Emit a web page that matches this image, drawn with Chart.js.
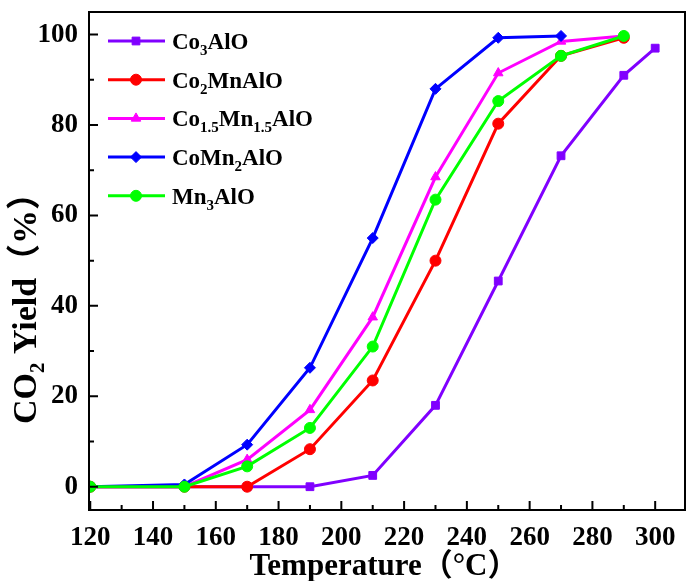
<!DOCTYPE html>
<html>
<head>
<meta charset="utf-8">
<script src="https://cdn.jsdelivr.net/npm/chart.js@4"></script>
<style>
  body { margin: 0; background: #fff; }
</style>
</head>
<body>
<canvas id="yieldChart" width="686" height="581"></canvas>
<script>
// temperatures (°C)
const temps = [120, 150, 170, 190, 210, 230, 250, 270, 290];
const tempsCo3 = [120, 150, 170, 190, 210, 230, 250, 270, 290, 300];

// CO2 yield (%)
const co3AlO = [0, 0, 0, 0, 2.5, 18, 45.5, 73.2, 91, 97];
const co2MnAlO = [0, 0, 0, 8.3, 23.5, 50, 80.3, 95.3, 99.3];
const co15Mn15AlO = [0, 0, 6, 17, 37.5, 68.5, 91.5, 98.5, 99.7];
const coMn2AlO = [0, 0.5, 9.3, 26.3, 55, 88, 99.3, 99.7];
const mn3AlO = [0, 0, 4.5, 13, 31, 63.5, 85.3, 95.3, 99.7];

const xTicks = [120, 140, 160, 180, 200, 220, 240, 260, 280, 300];
const yTicks = [0, 20, 40, 60, 80, 100];

// legend text with subscripts: [text, isSubscript]
const legendParts = [
  [['Co', 0], ['3', 1], ['AlO', 0]],
  [['Co', 0], ['2', 1], ['MnAlO', 0]],
  [['Co', 0], ['1.5', 1], ['Mn', 0], ['1.5', 1], ['AlO', 0]],
  [['CoMn', 0], ['2', 1], ['AlO', 0]],
  [['Mn', 0], ['3', 1], ['AlO', 0]]
];

const serif = '"Liberation Serif", "Times New Roman", "Noto Sans CJK SC", serif';

function pts(xs, ys) {
  return ys.map((v, i) => ({ x: xs[i], y: v }));
}

function series(label, xs, ys, color, style, order) {
  return {
    label: label,
    data: pts(xs, ys),
    borderColor: color,
    backgroundColor: color,
    borderWidth: 3,
    pointStyle: style,
    pointRadius: 5.5,
    pointBorderWidth: 1,
    pointHoverRadius: 5.5,
    order: order
  };
}

// draw rich text (with subscripts), returns width
function richText(ctx, parts, x, y, size, subSize, subDrop, measureOnly) {
  let cx = x;
  parts.forEach(p => {
    ctx.font = 'bold ' + (p[1] ? subSize : size) + 'px ' + serif;
    if (!measureOnly) ctx.fillText(p[0], cx, p[1] ? y + subDrop : y);
    cx += ctx.measureText(p[0]).width;
  });
  return cx - x;
}

const framePlugin = {
  id: 'frame',
  afterDraw(chart) {
    const ctx = chart.ctx;
    const a = chart.chartArea;
    const xs = chart.scales.x;
    const ys = chart.scales.y;
    ctx.save();
    ctx.strokeStyle = '#000';
    ctx.lineWidth = 2;
    ctx.strokeRect(a.left, a.top, a.right - a.left, a.bottom - a.top);

    // inward ticks
    ctx.beginPath();
    xTicks.forEach(t => {
      const px = xs.getPixelForValue(t);
      ctx.moveTo(px, a.bottom); ctx.lineTo(px, a.bottom - 9);
      const m = t + 10;
      if (m < xs.max) {
        const pm = xs.getPixelForValue(m);
        ctx.moveTo(pm, a.bottom); ctx.lineTo(pm, a.bottom - 5);
      }
    });
    yTicks.forEach(t => {
      const py = ys.getPixelForValue(t);
      ctx.moveTo(a.left, py); ctx.lineTo(a.left + 9, py);
      const m = t + 10;
      if (m < ys.max) {
        const pm = ys.getPixelForValue(m);
        ctx.moveTo(a.left, pm); ctx.lineTo(a.left + 5, pm);
      }
    });
    ctx.stroke();

    // legend
    chart.data.datasets.forEach((ds, i) => {
      const y = 41 + i * 38.7;
      ctx.strokeStyle = ds.borderColor;
      ctx.fillStyle = ds.borderColor;
      ctx.lineWidth = 3;
      ctx.beginPath();
      ctx.moveTo(108, y); ctx.lineTo(165, y);
      ctx.stroke();
      ctx.lineWidth = 1;
      Chart.helpers.drawPoint(ctx, { pointStyle: ds.pointStyle, radius: 5.5, rotation: 0, borderWidth: 1 }, 136, y);
      ctx.fillStyle = '#000';
      ctx.textBaseline = 'alphabetic';
      richText(ctx, legendParts[i], 172, y + 8, 23, 15, 6, false);
    });

    // x title
    ctx.fillStyle = '#000';
    ctx.textBaseline = 'alphabetic';
    ctx.font = 'bold 31px ' + serif;
    ctx.textAlign = 'center';
    ctx.fillText('Temperature（°C）', 384, 575);

    // y title
    ctx.textAlign = 'left';
    const yParts = [['CO', 0], ['2', 1], [' Yield（%）', 0]];
    const w = richText(ctx, yParts, 0, 0, 34, 21, 8, true);
    ctx.translate(25, 300);
    ctx.rotate(-Math.PI / 2);
    richText(ctx, yParts, -w / 2, 11, 34, 21, 8, false);
    ctx.restore();
  }
};

new Chart(document.getElementById('yieldChart').getContext('2d'), {
  type: 'line',
  data: {
    datasets: [
      series('Co3AlO', tempsCo3, co3AlO, '#8000ff', 'rect', 5),
      series('Co2MnAlO', temps, co2MnAlO, '#ff0000', 'circle', 4),
      series('Co1.5Mn1.5AlO', temps, co15Mn15AlO, '#ff00ff', 'triangle', 3),
      series('CoMn2AlO', temps, coMn2AlO, '#0000ff', 'rectRot', 2),
      series('Mn3AlO', temps, mn3AlO, '#00ff00', 'circle', 1)
    ]
  },
  options: {
    responsive: false,
    animation: false,
    devicePixelRatio: 1,
    layout: { autoPadding: false, padding: { top: 12, right: 1, left: 0, bottom: 0 } },
    plugins: {
      legend: { display: false },
      tooltip: { enabled: false }
    },
    scales: {
      x: {
        type: 'linear',
        min: 119.6,
        max: 309.5,
        afterBuildTicks: s => { s.ticks = xTicks.map(v => ({ value: v })); },
        afterFit: s => { s.height = 71; s.paddingLeft = 0; s.paddingRight = 0; },
        grid: { display: false, drawTicks: false },
        border: { display: false },
        ticks: {
          padding: 12,
          color: '#000',
          maxRotation: 0,
          font: { family: serif, size: 27, weight: 'bold' }
        }
      },
      y: {
        min: -5.15,
        max: 105,
        afterBuildTicks: s => { s.ticks = yTicks.map(v => ({ value: v })); },
        afterFit: s => { s.width = 89; s.paddingTop = 0; s.paddingBottom = 0; },
        grid: { display: false, drawTicks: false },
        border: { display: false },
        ticks: {
          padding: 11,
          color: '#000',
          font: { family: serif, size: 27, weight: 'bold' }
        }
      }
    }
  },
  plugins: [framePlugin]
});
</script>
</body>
</html>
